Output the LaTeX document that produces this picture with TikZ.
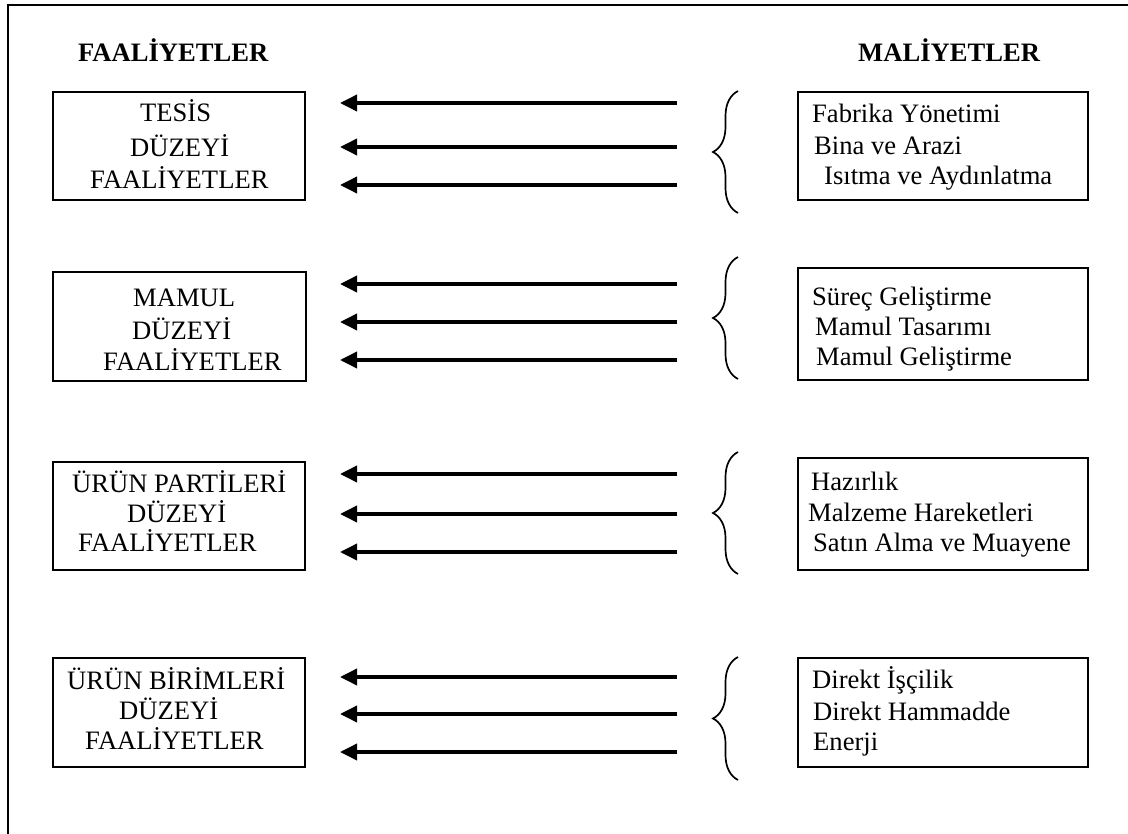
\documentclass[tikz,border=0pt]{standalone}
\usepackage{fontspec}
\setmainfont{Liberation Serif}
\usetikzlibrary{arrows.meta,decorations.pathreplacing}
\begin{document}
\begin{tikzpicture}[x=1pt,y=-1pt,
  frame/.style={line width=2.8pt},
  levelbox/.style={draw,line width=2pt,anchor=north west,inner sep=0pt},
  txt/.style={anchor=base west,inner sep=0pt,font=\fontsize{26.6}{30}\selectfont},
  head/.style={txt,font=\fontsize{26.6}{30}\selectfont\bfseries},
  arr/.style={line width=3.6pt,-{Triangle[length=17pt,width=16pt]}},
  curly/.style={line width=1.7pt,decorate,decoration={brace,amplitude=25pt,aspect=0.5}}]
\useasboundingbox (0,0) rectangle (1128,834);

% outer frame (top and left sides)
\draw[frame] (8,836) -- (8,5) -- (1130,5);

% column headings
\node[head] (hf) at (78,62) {FAALİYETLER};
\node[head] (hm) at (858,62) {MALİYETLER};

% activity level boxes
\node[levelbox,minimum width=252pt,minimum height=108pt] (a1) at (52,91) {};
\node[levelbox,minimum width=253pt,minimum height=109pt] (a2) at (52,271) {};
\node[levelbox,minimum width=252pt,minimum height=108pt] (a3) at (52,461) {};
\node[levelbox,minimum width=252pt,minimum height=109pt] (a4) at (52,657) {};

\node[txt] (a1l1) at (140,122) {TESİS};
\node[txt] (a1l2) at (130,157) {DÜZEYİ};
\node[txt] (a1l3) at (90,189) {FAALİYETLER};

\node[txt] (a2l1) at (133,307) {MAMUL};
\node[txt] (a2l2) at (132,340) {DÜZEYİ};
\node[txt] (a2l3) at (103,371) {FAALİYETLER};

\node[txt] (a3l1) at (72,492) {ÜRÜN PARTİLERİ};
\node[txt] (a3l2) at (127,522) {DÜZEYİ};
\node[txt] (a3l3) at (78,551) {FAALİYETLER};

\node[txt] (a4l1) at (67,689) {ÜRÜN BİRİMLERİ};
\node[txt] (a4l2) at (119,719) {DÜZEYİ};
\node[txt] (a4l3) at (85,749) {FAALİYETLER};

% cost boxes
\node[levelbox,minimum width=290pt,minimum height=108pt] (c1) at (797,91) {};
\node[levelbox,minimum width=290pt,minimum height=112pt] (c2) at (797,267) {};
\node[levelbox,minimum width=290pt,minimum height=112pt] (c3) at (797,457) {};
\node[levelbox,minimum width=290pt,minimum height=109pt] (c4) at (797,657) {};

\node[txt] (c1l1) at (812,123) {Fabrika Yönetimi};
\node[txt] (c1l2) at (814,155) {Bina ve Arazi};
\node[txt] (c1l3) at (824,185) {Isıtma ve Aydınlatma};

\node[txt] (c2l1) at (812,306) {Süreç Geliştirme};
\node[txt] (c2l2) at (815,336) {Mamul Tasarımı};
\node[txt] (c2l3) at (816,366) {Mamul Geliştirme};

\node[txt] (c3l1) at (811,490) {Hazırlık};
\node[txt] (c3l2) at (808,521) {Malzeme Hareketleri};
\node[txt] (c3l3) at (813,551) {Satın Alma ve Muayene};

\node[txt] (c4l1) at (812,688) {Direkt İşçilik};
\node[txt] (c4l2) at (813,720) {Direkt Hammadde};
\node[txt] (c4l3) at (813,750) {Enerji};

% arrow end points
\foreach \g/\ya/\yb/\yc in {1/103/147/185, 2/284/322/360, 3/474/514/552, 4/677/714/752}{
  \coordinate (t\g a) at (677,\ya); \coordinate (h\g a) at (340,\ya);
  \coordinate (t\g b) at (677,\yb); \coordinate (h\g b) at (340,\yb);
  \coordinate (t\g c) at (677,\yc); \coordinate (h\g c) at (340,\yc);
}
\foreach \g in {1,2,3,4}{
  \draw[arr] (t\g a) -- (h\g a);
  \draw[arr] (t\g b) -- (h\g b);
  \draw[arr] (t\g c) -- (h\g c);
}

% braces
\foreach \g/\top/\bot in {1/91/213, 2/257/379, 3/452/574, 4/657/780}{
  \coordinate (bb\g) at (738,\bot);
  \coordinate (bt\g) at (738,\top);
  \draw[curly] (bb\g) -- (bt\g);
}
\end{tikzpicture}
\end{document}
